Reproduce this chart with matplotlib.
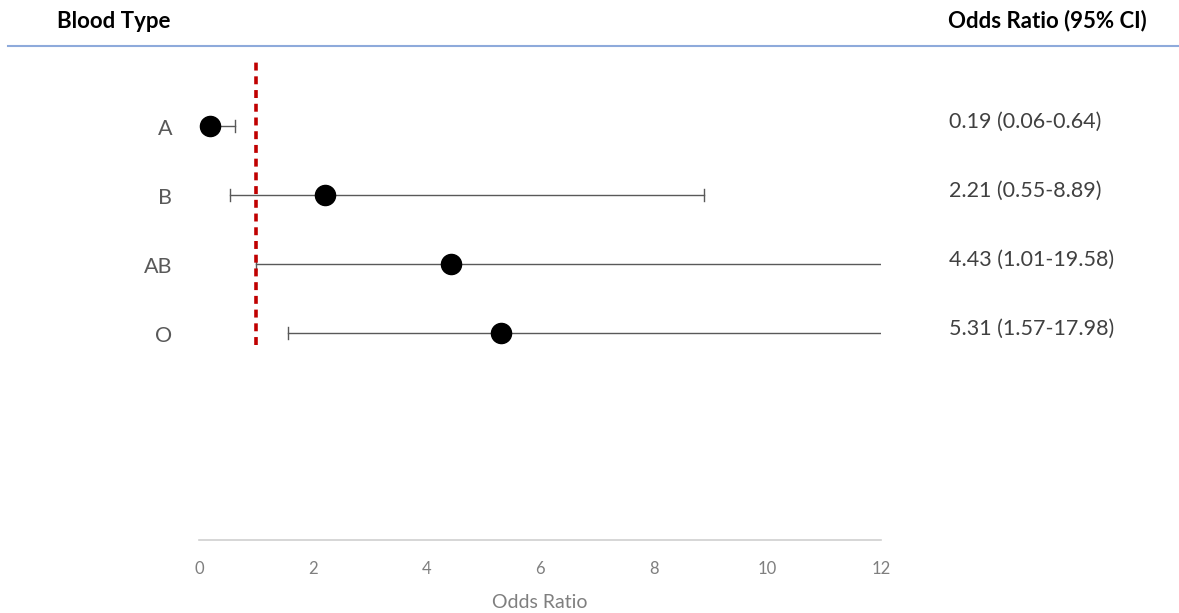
import matplotlib.pyplot as plt
from matplotlib.lines import Line2D
import numpy as np

categories = ["A", "B", "AB", "O"]
odds = [0.19, 2.21, 4.43, 5.31]
lower = [0.06, 0.55, 1.01, 1.57]
upper = [0.64, 8.89, 19.58, 17.98]
labels = ["0.19 (0.06-0.64)", "2.21 (0.55-8.89)", "4.43 (1.01-19.58)", "5.31 (1.57-17.98)"]
xticks = [0, 2, 4, 6, 8, 10, 12]

plt.rcParams['font.family'] = ['Lato', 'DejaVu Sans']

fig = plt.figure(figsize=(11.79, 6.13), dpi=100)
ax = fig.add_axes([199/1179, 1-540/613, (881-199)/1179, (540-57)/613])

ypos = [4, 3, 2, 1]
xmax = 12
for y, o, lo, hi in zip(ypos, odds, lower, upper):
    hi_c = min(hi, xmax)
    ax.plot([lo, hi_c], [y, y], color='#595959', lw=1, zorder=2)
    ax.plot([lo, lo], [y - 0.09, y + 0.09], color='#595959', lw=1, zorder=2)
    if hi <= xmax:
        ax.plot([hi, hi], [y - 0.09, y + 0.09], color='#595959', lw=1, zorder=2)
    ax.plot(o, y, 'o', color='black', markersize=14.5, zorder=4)

ax.plot([1, 1], [0.83, 5.0], color='#c00000', lw=2.6, ls=(0, (2.2, 1.6)), zorder=3)

ax.set_xlim(0, 12)
ax.set_ylim(-2, 5)
ax.set_xticks(xticks)
ax.set_xticklabels([str(t) for t in xticks], color='#7f7f7f', fontsize=12)
ax.tick_params(axis='x', length=0, pad=15)
ax.set_yticks([])
for s in ['top', 'right', 'left']:
    ax.spines[s].set_visible(False)
ax.spines['bottom'].set_color('#d0d0d0')
ax.spines['bottom'].set_linewidth(1.2)
ax.set_xlabel("Odds Ratio", color='#7f7f7f', fontsize=14, labelpad=12)

for y, c in zip(ypos, categories):
    ax.text(-0.47, y - 0.05, c, ha='right', va='center', color='#595959', fontsize=15.5)

for y, lab in zip(ypos, labels):
    fig.text(949/1179, 1 - (126 + (4 - y) * 69 - 4)/613, lab, ha='left', va='center',
             color='#404040', fontsize=15.5)

fig.text(57/1179, 1 - 21/613, "Blood Type", ha='left', va='center', fontsize=16, fontweight='bold', color='black')
fig.text(1147/1179, 1 - 21/613, "Odds Ratio (95% CI)", ha='right', va='center', fontsize=16, fontweight='bold', color='black')
fig.add_artist(Line2D([8/1179, 1.0], [1 - 46/613, 1 - 46/613], color='#8eaadb', lw=1.5))

fig.savefig("out.png", dpi=100)
